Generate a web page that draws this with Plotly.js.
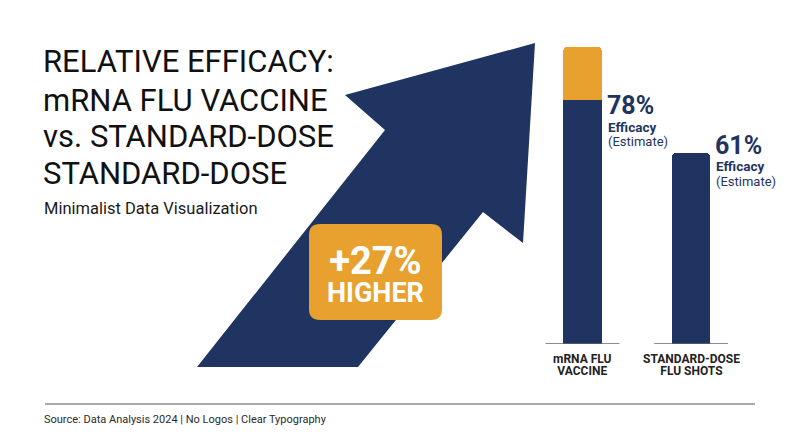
<!DOCTYPE html>
<html>
<head>
<meta charset="utf-8">
<script src="https://cdn.plot.ly/plotly-3.0.1.min.js"></script>
<style>html,body{margin:0;padding:0;background:#fff;}#chart{width:800px;height:447px;}</style>
</head>
<body>
<div id="chart"></div>
<script>
// ---- data ----
var categories = ['mRNA FLU VACCINE', 'STANDARD-DOSE FLU SHOTS'];
var labelLine1 = ['mRNA FLU', 'STANDARD-DOSE'];
var labelLine2 = ['VACCINE', 'FLU SHOTS'];
var efficacy = [78, 61];
var gain = [17, 0];
var efficacyText = ['78%', '61%'];
var titleLines = ['RELATIVE EFFICACY:', 'mRNA FLU VACCINE', 'vs. STANDARD-DOSE', 'STANDARD-DOSE'];
var subtitle = 'Minimalist Data Visualization';
var badgeLines = ['+27%', 'HIGHER'];
var sourceText = 'Source: Data Analysis 2024 | No Logos | Clear Typography';

// ---- style ----
var NAVY = '#1F3461', ORANGE = '#E8A12E', FONT = 'Roboto, sans-serif';
var W = 800, H = 447;
function px(x) { return x / W; }
function py(y) { return 1 - y / H; }

var traces = [
  { type: 'bar', x: categories, y: efficacy, marker: { color: NAVY, line: { width: 0 } }, hoverinfo: 'skip' },
  { type: 'bar', x: categories, y: gain, marker: { color: ORANGE, line: { width: 0 }, cornerradius: 4 }, hoverinfo: 'skip' }
];

function pts(list) {
  return 'M' + list.map(function (p) { return px(p[0]) + ',' + py(p[1]); }).join(' L') + ' Z';
}
var arrowPath = pts([[535, 43], [345, 95], [385, 130], [197, 367], [358, 367], [483, 212], [523, 243]]);

function roundRect(x0, y0, x1, y1, r) {
  return 'M' + px(x0 + r) + ',' + py(y0) +
    ' L' + px(x1 - r) + ',' + py(y0) + ' Q' + px(x1) + ',' + py(y0) + ' ' + px(x1) + ',' + py(y0 + r) +
    ' L' + px(x1) + ',' + py(y1 - r) + ' Q' + px(x1) + ',' + py(y1) + ' ' + px(x1 - r) + ',' + py(y1) +
    ' L' + px(x0 + r) + ',' + py(y1) + ' Q' + px(x0) + ',' + py(y1) + ' ' + px(x0) + ',' + py(y1 - r) +
    ' L' + px(x0) + ',' + py(y0 + r) + ' Q' + px(x0) + ',' + py(y0) + ' ' + px(x0 + r) + ',' + py(y0) + ' Z';
}

var shapes = [
  { type: 'path', xref: 'paper', yref: 'paper', path: arrowPath, fillcolor: NAVY, line: { width: 0 }, layer: 'below' },
  { type: 'path', xref: 'paper', yref: 'paper', path: roundRect(309, 224, 442, 320, 11), fillcolor: ORANGE, line: { width: 0 }, layer: 'below' },
  { type: 'line', xref: 'paper', yref: 'paper', x0: px(45), x1: px(755), y0: py(404), y1: py(404), line: { color: '#AAAAAA', width: 2 } }
];
categories.forEach(function (c, i) {
  shapes.push({ type: 'line', xref: 'x', yref: 'y', x0: i - 0.34, x1: i + 0.34, y0: 0, y1: 0, line: { color: '#666666', width: 1.5 } });
});

function span(t, size, bold) {
  var s = '<span style="font-size:' + size + 'px">' + t + '</span>';
  return bold ? '<b>' + s + '</b>' : s;
}

var annotations = [];
function txt(t, x, y, size, color, bold, xanchor) {
  annotations.push({ xref: 'paper', yref: 'paper', x: px(x), y: py(y), text: bold ? '<b>' + t + '</b>' : t,
    showarrow: false, xanchor: xanchor || 'left', yanchor: 'middle', borderpad: 0,
    font: { family: FONT, size: size, color: color } });
}
var titleCenters = [61.5, 100.5, 137, 173];
titleLines.forEach(function (t, i) { txt(t, 42, titleCenters[i], 31, '#111111', false); });
txt(subtitle, 43, 209, 16.5, '#1a1a1a', false);
txt(sourceText, 43, 419.5, 11, '#2a2a2a', false);

// badge: one annotation, two lines
annotations.push({ xref: 'paper', yref: 'paper', x: px(375.5), y: py(274), showarrow: false,
  xanchor: 'center', yanchor: 'middle', borderpad: 0,
  text: span(badgeLines[0], 38, true) + '<br>' + span(badgeLines[1], 27, true),
  font: { family: FONT, size: 21.5, color: '#FFFFFF' } });

var valueShift = [-6, 8];
categories.forEach(function (c, i) {
  annotations.push({ xref: 'x', yref: 'y', x: c, y: efficacy[i], xshift: 23, yshift: valueShift[i],
    text: '<b>' + efficacyText[i] + '</b>', showarrow: false, xanchor: 'left', yanchor: 'middle', borderpad: 0,
    font: { family: FONT, size: 25, color: NAVY } });
  annotations.push({ xref: 'x', yref: 'y', x: c, y: efficacy[i], xshift: 24, yshift: valueShift[i] - 21,
    text: '<b>Efficacy</b>', showarrow: false, xanchor: 'left', yanchor: 'middle', borderpad: 0,
    font: { family: FONT, size: 13.5, color: NAVY } });
  annotations.push({ xref: 'x', yref: 'y', x: c, y: efficacy[i], xshift: 24, yshift: valueShift[i] - 36,
    text: '(Estimate)', showarrow: false, xanchor: 'left', yanchor: 'middle', borderpad: 0,
    font: { family: FONT, size: 13, color: NAVY } });
  annotations.push({ xref: 'x', yref: 'paper', x: c, y: py(364.5),
    text: span(labelLine1[i], 12, true) + '<br>' + span(labelLine2[i], 12, true),
    showarrow: false, xanchor: 'center', yanchor: 'middle', borderpad: 0,
    font: { family: FONT, size: 9.6, color: '#222222' } });
});

var layout = {
  width: W, height: H,
  margin: { l: 0, r: 0, t: 0, b: 0, pad: 0 },
  paper_bgcolor: '#FFFFFF', plot_bgcolor: 'rgba(0,0,0,0)',
  showlegend: false, barmode: 'stack', bargap: 0.647,
  font: { family: FONT },
  xaxis: { type: 'category', domain: [0.6603, 0.9316], range: [-0.5, 1.5], showgrid: false, zeroline: false,
    showticklabels: false, ticks: '', showline: false, fixedrange: true },
  yaxis: { domain: [0.2304, 0.9306], range: [0, 100], showgrid: false, zeroline: false,
    showticklabels: false, ticks: '', showline: false, fixedrange: true },
  shapes: shapes,
  annotations: annotations,
  hovermode: false
};

Plotly.newPlot('chart', traces, layout, { displayModeBar: false, staticPlot: true });
</script>
</body>
</html>
